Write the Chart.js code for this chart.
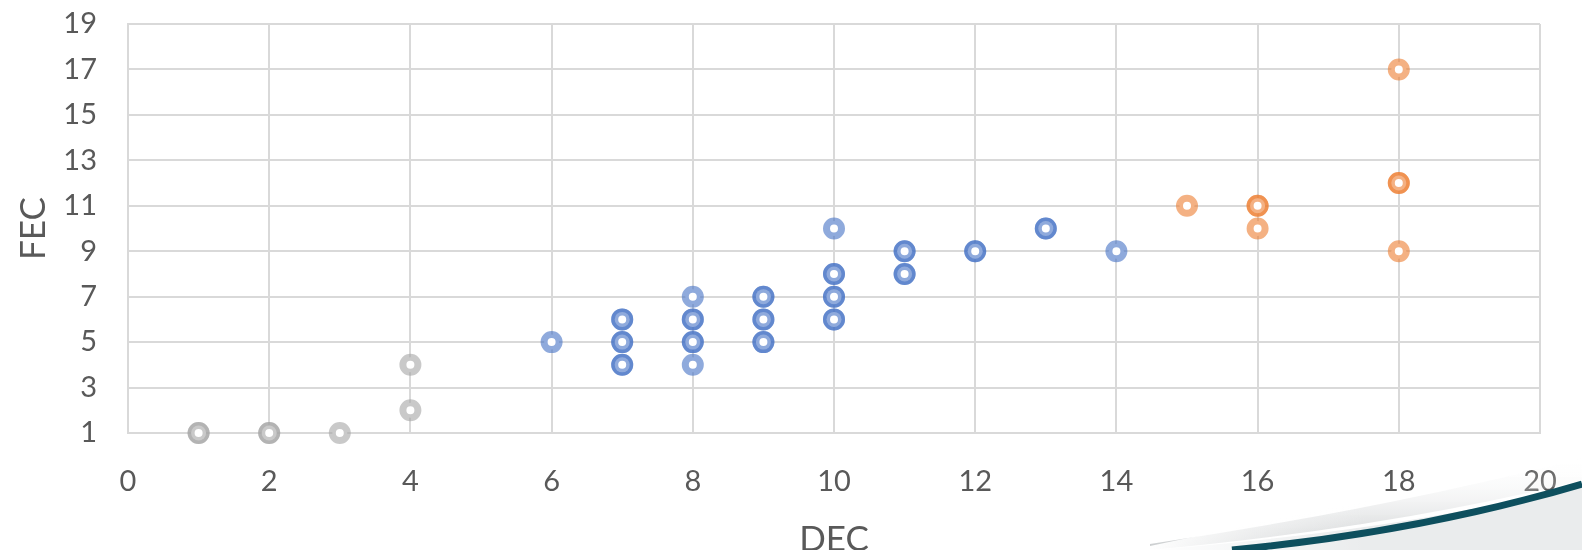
<!DOCTYPE html>
<html lang="en">
<head>
<meta charset="UTF-8" />
<title>FEC vs DEC</title>
<script src="https://cdn.jsdelivr.net/npm/chart.js"></script>
<style>
  html, body { margin: 0; padding: 0; background: #fff; overflow: hidden; }
  .wrap { position: relative; width: 1582px; height: 550px; }
  #grafico { display: block; }
  svg.deco { position: absolute; left: 0; top: 0; pointer-events: none; }
</style>
</head>
<body>
<div class="wrap">
  <canvas id="grafico" width="1582" height="550"></canvas>
  <svg class="deco" width="1582" height="550" viewBox="0 0 1582 550">
    <defs>
      <linearGradient id="shade" x1="0" y1="0" x2="0" y2="1">
        <stop offset="0" stop-color="#ffffff" stop-opacity="0" />
        <stop offset="1" stop-color="#b4b8ba" stop-opacity="0.75" />
      </linearGradient>
      <linearGradient id="fadeL" x1="0" y1="0" x2="1" y2="0">
        <stop offset="0" stop-color="#ffffff" stop-opacity="1" />
        <stop offset="0.5" stop-color="#ffffff" stop-opacity="0" />
      </linearGradient>
    </defs>
    <path d="M1150 550 Q1390 528 1582 480 L1582 458 Q1390 508 1150 544 Z" fill="url(#shade)" />
    <path d="M1150 550 L1582 550 L1582 484 Q1410 530 1150 550 Z" fill="#eaeced" />
    <path d="M1150 546 L1582 455 L1582 550 L1150 550 Z" fill="url(#fadeL)" />
    <path d="M1232 550 Q1420 532 1582 484" fill="none" stroke="#0e4f5e" stroke-width="7" />
  </svg>
</div>
<script>
  const xTicks = [0, 2, 4, 6, 8, 10, 12, 14, 16, 18, 20];
  const yTicks = [1, 3, 5, 7, 9, 11, 13, 15, 17, 19];

  // repeated pairs are coincident points (they show up darker)
  const grayX = [1, 1, 2, 2, 3, 4, 4];
  const grayY = [1, 1, 1, 1, 1, 2, 4];

  const blueX = [6, 7, 7, 7, 7, 7, 7, 8, 8, 8, 8, 8, 8, 9, 9, 9, 9, 9, 9, 10, 10, 10, 10, 10, 10, 10, 11, 11, 11, 11, 12, 12, 13, 13, 14];
  const blueY = [5, 4, 4, 5, 5, 6, 6, 4, 5, 5, 6, 6, 7, 5, 5, 6, 6, 7, 7, 6, 6, 7, 7, 8, 8, 10, 8, 8, 9, 9, 9, 9, 10, 10, 9];

  const orangeX = [15, 16, 16, 16, 18, 18, 18, 18];
  const orangeY = [11, 11, 11, 10, 17, 12, 12, 9];

  const pts = (xs, ys) => xs.map((x, i) => ({ x: x, y: ys[i] }));

  const ring = (label, data, color) => ({
    label: label,
    data: data,
    borderColor: color,
    backgroundColor: '#ffffff',
    pointRadius: 7.5,
    pointHoverRadius: 7.5,
    pointBorderWidth: 7,
    showLine: false,
    clip: false
  });

  const tickFont = { family: 'Lato, "Open Sans", sans-serif', size: 29 };
  const titleFont = { family: 'Lato, "Open Sans", sans-serif', size: 35 };

  const ctx = document.getElementById('grafico').getContext('2d');
  const chart = new Chart(ctx, {
    type: 'scatter',
    data: {
      datasets: [
        ring('low', pts(grayX, grayY), 'rgba(165, 165, 165, 0.6)'),
        ring('mid', pts(blueX, blueY), 'rgba(68, 114, 196, 0.6)'),
        ring('high', pts(orangeX, orangeY), 'rgba(237, 125, 49, 0.6)')
      ]
    },
    options: {
      responsive: false,
      animation: false,
      devicePixelRatio: 1,
      layout: { autoPadding: false, padding: { top: 24, right: 42, left: 0, bottom: 0 } },
      scales: {
        x: {
          type: 'linear',
          min: 0,
          max: 20,
          afterBuildTicks: (s) => { s.ticks = xTicks.map(v => ({ value: v })); },
          afterFit: (s) => { s.height = 117; s.paddingLeft = 0; s.paddingRight = 0; },
          ticks: { color: '#595959', font: tickFont, padding: 31 },
          grid: { color: '#d9d9d9', lineWidth: 2, drawTicks: false },
          border: { color: '#d9d9d9', width: 2 },
          title: { display: true, text: 'DEC', color: '#595959', font: titleFont, padding: { top: 0, bottom: -11 } }
        },
        y: {
          type: 'linear',
          min: 1,
          max: 19,
          afterBuildTicks: (s) => { s.ticks = yTicks.map(v => ({ value: v })); },
          afterFit: (s) => { s.width = 128; s.paddingTop = 0; s.paddingBottom = 0; },
          ticks: { color: '#595959', font: tickFont, padding: 31 },
          grid: { color: '#d9d9d9', lineWidth: 2, drawTicks: false },
          border: { color: '#d9d9d9', width: 2 },
          title: { display: true, text: 'FEC', color: '#595959', font: titleFont, padding: { top: 13, bottom: 0 } }
        }
      },
      plugins: {
        legend: { display: false },
        tooltip: { enabled: false }
      }
    }
  });
</script>
</body>
</html>
